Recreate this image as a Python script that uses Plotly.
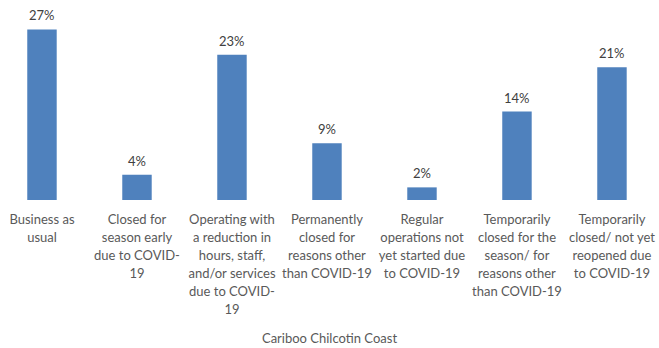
import plotly.graph_objects as go

categories = [
    "Business as<br>usual",
    "Closed for<br>season early<br>due to COVID-<br>19",
    "Operating with<br>a reduction in<br>hours, staff,<br>and/or services<br>due to COVID-<br>19",
    "Permanently<br>closed for<br>reasons other<br>than COVID-19",
    "Regular<br>operations not<br>yet started due<br>to COVID-19",
    "Temporarily<br>closed for the<br>season/ for<br>reasons other<br>than COVID-19",
    "Temporarily<br>closed/ not yet<br>reopened due<br>to COVID-19",
]
values = [27, 4, 23, 9, 2, 14, 21]
region = "Cariboo Chilcotin Coast"

positions = list(range(len(categories)))
font_family = "Lato, Carlito, Calibri, sans-serif"
text_grey = "#595959"


def compact_lines(label, size=13):
    # glyphs a touch smaller than the tick font, keeping the roomier line pitch
    return "<br>".join(
        f'<span style="font-size:{size}px">{line}</span>' for line in label.split("<br>")
    )


fig = go.Figure(
    go.Bar(
        x=positions,
        y=values,
        marker=dict(color="#4F81BD", line=dict(width=0)),
        width=0.31,
        hoverinfo="skip",
    )
)

# value labels sitting a little above each bar
for pos, val in zip(positions, values):
    fig.add_annotation(
        x=pos, y=val, xref="x", yref="y",
        text=f"{val}%", showarrow=False,
        yanchor="bottom", yshift=4,
        font=dict(family=font_family, size=13, color="#404040"),
    )

fig.update_layout(
    width=659,
    height=348,
    margin=dict(l=0, r=0, t=8, b=148),
    paper_bgcolor="white",
    plot_bgcolor="white",
    showlegend=False,
    font=dict(family=font_family, size=13, color=text_grey),
    xaxis=dict(
        range=[-0.442, 6.495],
        tickmode="array",
        tickvals=positions,
        ticktext=[compact_lines(c) for c in categories],
        tickangle=0,
        showline=False,
        showgrid=False,
        zeroline=False,
        ticks="",
        ticklabelstandoff=9,
        tickfont=dict(family=font_family, size=13.8, color=text_grey),
        title=dict(text=region, standoff=18,
                   font=dict(family=font_family, size=13, color=text_grey)),
    ),
    yaxis=dict(
        range=[0, 30.4],
        visible=False,
    ),
)

fig.write_html("out.html")
